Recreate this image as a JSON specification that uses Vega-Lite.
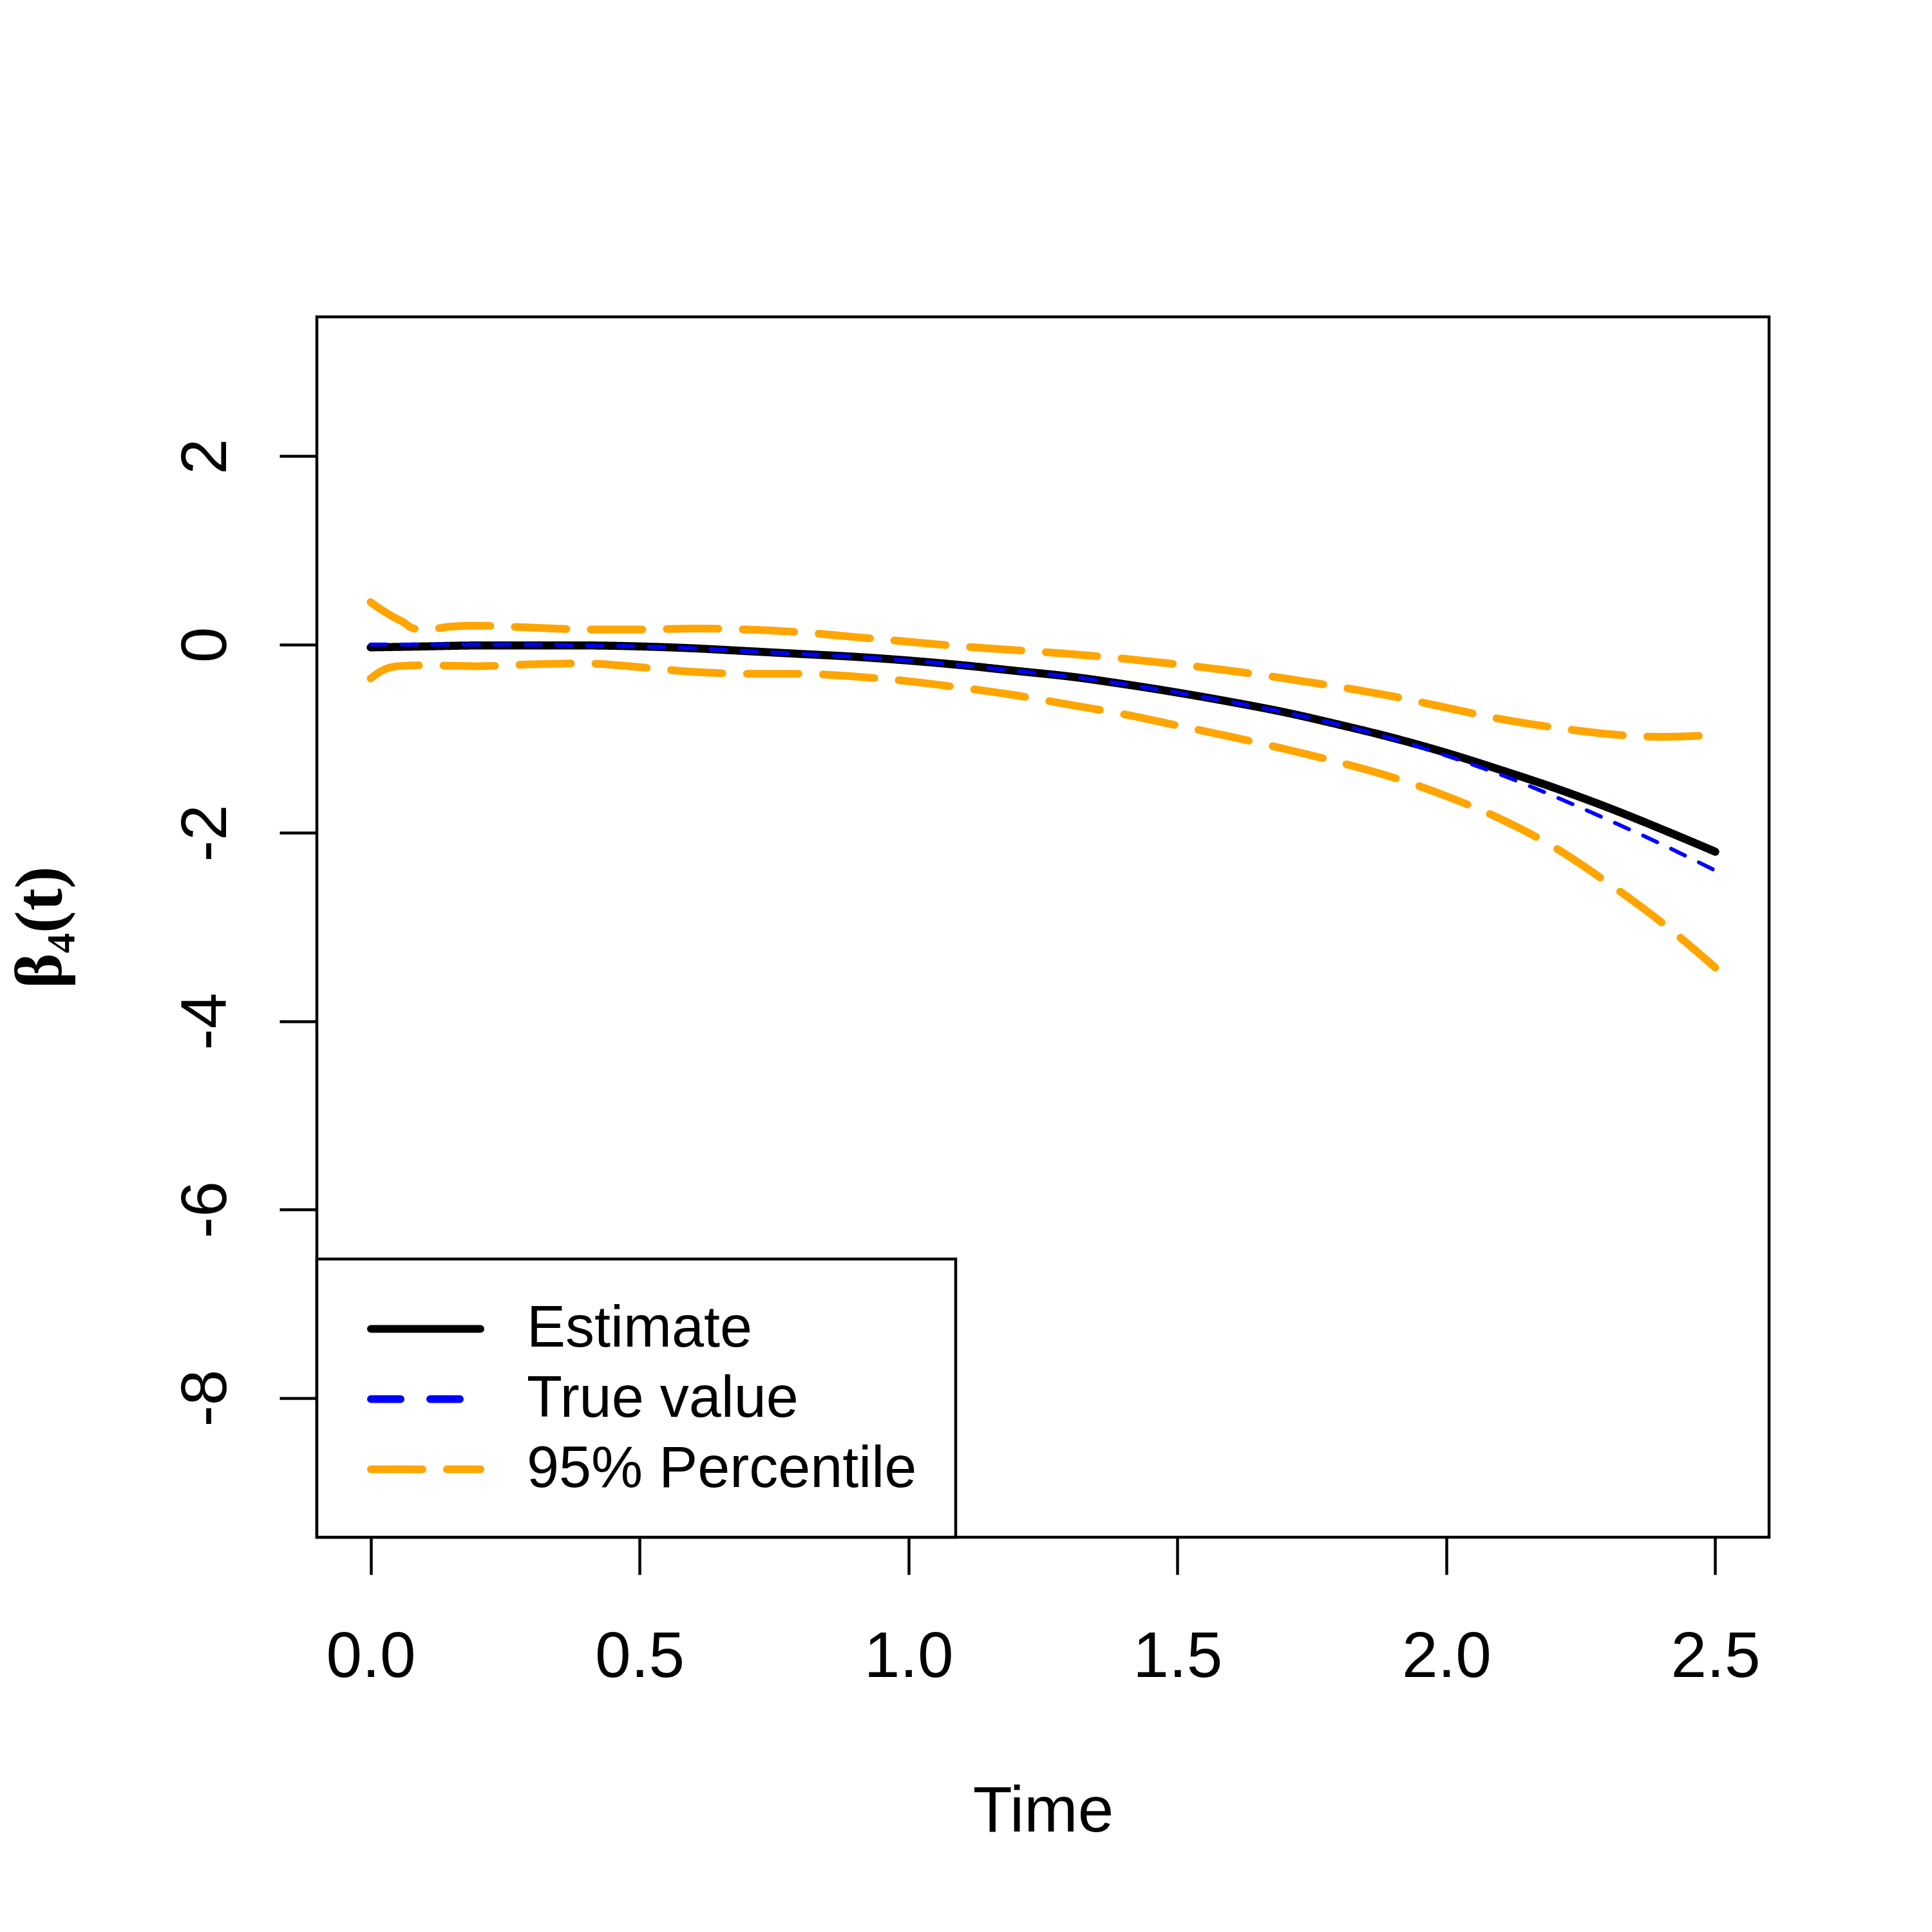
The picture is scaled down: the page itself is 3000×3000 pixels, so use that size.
{
  "$schema": "https://vega.github.io/schema/vega-lite/v6.json",
  "width": 2255,
  "height": 1895,
  "autosize": "none",
  "padding": {"left": 492, "top": 492, "right": 253, "bottom": 613},
  "background": "white",
  "datasets": {
    "curves": [
      {"time": 0.0, "value": -0.03, "series": "Estimate", "curve": "est"},
      {"time": 0.1, "value": -0.02, "series": "Estimate", "curve": "est"},
      {"time": 0.2, "value": -0.01, "series": "Estimate", "curve": "est"},
      {"time": 0.3, "value": -0.01, "series": "Estimate", "curve": "est"},
      {"time": 0.4, "value": -0.01, "series": "Estimate", "curve": "est"},
      {"time": 0.5, "value": -0.02, "series": "Estimate", "curve": "est"},
      {"time": 0.6, "value": -0.04, "series": "Estimate", "curve": "est"},
      {"time": 0.7, "value": -0.07, "series": "Estimate", "curve": "est"},
      {"time": 0.8, "value": -0.10, "series": "Estimate", "curve": "est"},
      {"time": 0.9, "value": -0.13, "series": "Estimate", "curve": "est"},
      {"time": 1.0, "value": -0.17, "series": "Estimate", "curve": "est"},
      {"time": 1.1, "value": -0.22, "series": "Estimate", "curve": "est"},
      {"time": 1.2, "value": -0.28, "series": "Estimate", "curve": "est"},
      {"time": 1.3, "value": -0.34, "series": "Estimate", "curve": "est"},
      {"time": 1.4, "value": -0.42, "series": "Estimate", "curve": "est"},
      {"time": 1.5, "value": -0.51, "series": "Estimate", "curve": "est"},
      {"time": 1.6, "value": -0.61, "series": "Estimate", "curve": "est"},
      {"time": 1.7, "value": -0.72, "series": "Estimate", "curve": "est"},
      {"time": 1.8, "value": -0.85, "series": "Estimate", "curve": "est"},
      {"time": 1.9, "value": -0.99, "series": "Estimate", "curve": "est"},
      {"time": 2.0, "value": -1.15, "series": "Estimate", "curve": "est"},
      {"time": 2.1, "value": -1.33, "series": "Estimate", "curve": "est"},
      {"time": 2.2, "value": -1.52, "series": "Estimate", "curve": "est"},
      {"time": 2.3, "value": -1.73, "series": "Estimate", "curve": "est"},
      {"time": 2.4, "value": -1.96, "series": "Estimate", "curve": "est"},
      {"time": 2.5, "value": -2.20, "series": "Estimate", "curve": "est"},

      {"time": 0.0, "value": 0.0, "series": "True value", "curve": "true"},
      {"time": 0.1, "value": 0.0, "series": "True value", "curve": "true"},
      {"time": 0.2, "value": 0.0, "series": "True value", "curve": "true"},
      {"time": 0.3, "value": 0.0, "series": "True value", "curve": "true"},
      {"time": 0.4, "value": -0.01, "series": "True value", "curve": "true"},
      {"time": 0.5, "value": -0.02, "series": "True value", "curve": "true"},
      {"time": 0.6, "value": -0.04, "series": "True value", "curve": "true"},
      {"time": 0.7, "value": -0.07, "series": "True value", "curve": "true"},
      {"time": 0.8, "value": -0.10, "series": "True value", "curve": "true"},
      {"time": 0.9, "value": -0.13, "series": "True value", "curve": "true"},
      {"time": 1.0, "value": -0.17, "series": "True value", "curve": "true"},
      {"time": 1.1, "value": -0.22, "series": "True value", "curve": "true"},
      {"time": 1.2, "value": -0.28, "series": "True value", "curve": "true"},
      {"time": 1.3, "value": -0.34, "series": "True value", "curve": "true"},
      {"time": 1.4, "value": -0.42, "series": "True value", "curve": "true"},
      {"time": 1.5, "value": -0.51, "series": "True value", "curve": "true"},
      {"time": 1.6, "value": -0.61, "series": "True value", "curve": "true"},
      {"time": 1.7, "value": -0.72, "series": "True value", "curve": "true"},
      {"time": 1.8, "value": -0.85, "series": "True value", "curve": "true"},
      {"time": 1.9, "value": -1.00, "series": "True value", "curve": "true"},
      {"time": 2.0, "value": -1.18, "series": "True value", "curve": "true"},
      {"time": 2.1, "value": -1.38, "series": "True value", "curve": "true"},
      {"time": 2.2, "value": -1.61, "series": "True value", "curve": "true"},
      {"time": 2.3, "value": -1.86, "series": "True value", "curve": "true"},
      {"time": 2.4, "value": -2.12, "series": "True value", "curve": "true"},
      {"time": 2.5, "value": -2.40, "series": "True value", "curve": "true"},

      {"time": 0.0, "value": 0.45, "series": "95% Percentile", "curve": "upper"},
      {"time": 0.02, "value": 0.37, "series": "95% Percentile", "curve": "upper"},
      {"time": 0.04, "value": 0.30, "series": "95% Percentile", "curve": "upper"},
      {"time": 0.06, "value": 0.24, "series": "95% Percentile", "curve": "upper"},
      {"time": 0.08, "value": 0.17, "series": "95% Percentile", "curve": "upper"},
      {"time": 0.1, "value": 0.16, "series": "95% Percentile", "curve": "upper"},
      {"time": 0.15, "value": 0.19, "series": "95% Percentile", "curve": "upper"},
      {"time": 0.2, "value": 0.20, "series": "95% Percentile", "curve": "upper"},
      {"time": 0.3, "value": 0.18, "series": "95% Percentile", "curve": "upper"},
      {"time": 0.4, "value": 0.16, "series": "95% Percentile", "curve": "upper"},
      {"time": 0.5, "value": 0.16, "series": "95% Percentile", "curve": "upper"},
      {"time": 0.6, "value": 0.17, "series": "95% Percentile", "curve": "upper"},
      {"time": 0.7, "value": 0.16, "series": "95% Percentile", "curve": "upper"},
      {"time": 0.8, "value": 0.13, "series": "95% Percentile", "curve": "upper"},
      {"time": 0.9, "value": 0.08, "series": "95% Percentile", "curve": "upper"},
      {"time": 1.0, "value": 0.03, "series": "95% Percentile", "curve": "upper"},
      {"time": 1.1, "value": -0.02, "series": "95% Percentile", "curve": "upper"},
      {"time": 1.2, "value": -0.06, "series": "95% Percentile", "curve": "upper"},
      {"time": 1.3, "value": -0.10, "series": "95% Percentile", "curve": "upper"},
      {"time": 1.4, "value": -0.15, "series": "95% Percentile", "curve": "upper"},
      {"time": 1.5, "value": -0.21, "series": "95% Percentile", "curve": "upper"},
      {"time": 1.6, "value": -0.28, "series": "95% Percentile", "curve": "upper"},
      {"time": 1.7, "value": -0.36, "series": "95% Percentile", "curve": "upper"},
      {"time": 1.8, "value": -0.45, "series": "95% Percentile", "curve": "upper"},
      {"time": 1.9, "value": -0.55, "series": "95% Percentile", "curve": "upper"},
      {"time": 2.0, "value": -0.67, "series": "95% Percentile", "curve": "upper"},
      {"time": 2.1, "value": -0.79, "series": "95% Percentile", "curve": "upper"},
      {"time": 2.2, "value": -0.88, "series": "95% Percentile", "curve": "upper"},
      {"time": 2.3, "value": -0.95, "series": "95% Percentile", "curve": "upper"},
      {"time": 2.4, "value": -0.98, "series": "95% Percentile", "curve": "upper"},
      {"time": 2.5, "value": -0.96, "series": "95% Percentile", "curve": "upper"},

      {"time": 0.0, "value": -0.36, "series": "95% Percentile", "curve": "lower"},
      {"time": 0.02, "value": -0.28, "series": "95% Percentile", "curve": "lower"},
      {"time": 0.05, "value": -0.23, "series": "95% Percentile", "curve": "lower"},
      {"time": 0.1, "value": -0.22, "series": "95% Percentile", "curve": "lower"},
      {"time": 0.2, "value": -0.23, "series": "95% Percentile", "curve": "lower"},
      {"time": 0.3, "value": -0.21, "series": "95% Percentile", "curve": "lower"},
      {"time": 0.4, "value": -0.20, "series": "95% Percentile", "curve": "lower"},
      {"time": 0.5, "value": -0.24, "series": "95% Percentile", "curve": "lower"},
      {"time": 0.6, "value": -0.29, "series": "95% Percentile", "curve": "lower"},
      {"time": 0.7, "value": -0.31, "series": "95% Percentile", "curve": "lower"},
      {"time": 0.8, "value": -0.31, "series": "95% Percentile", "curve": "lower"},
      {"time": 0.9, "value": -0.34, "series": "95% Percentile", "curve": "lower"},
      {"time": 1.0, "value": -0.39, "series": "95% Percentile", "curve": "lower"},
      {"time": 1.1, "value": -0.46, "series": "95% Percentile", "curve": "lower"},
      {"time": 1.2, "value": -0.54, "series": "95% Percentile", "curve": "lower"},
      {"time": 1.3, "value": -0.64, "series": "95% Percentile", "curve": "lower"},
      {"time": 1.4, "value": -0.74, "series": "95% Percentile", "curve": "lower"},
      {"time": 1.5, "value": -0.86, "series": "95% Percentile", "curve": "lower"},
      {"time": 1.6, "value": -0.98, "series": "95% Percentile", "curve": "lower"},
      {"time": 1.7, "value": -1.11, "series": "95% Percentile", "curve": "lower"},
      {"time": 1.8, "value": -1.25, "series": "95% Percentile", "curve": "lower"},
      {"time": 1.9, "value": -1.41, "series": "95% Percentile", "curve": "lower"},
      {"time": 2.0, "value": -1.61, "series": "95% Percentile", "curve": "lower"},
      {"time": 2.1, "value": -1.85, "series": "95% Percentile", "curve": "lower"},
      {"time": 2.2, "value": -2.15, "series": "95% Percentile", "curve": "lower"},
      {"time": 2.3, "value": -2.53, "series": "95% Percentile", "curve": "lower"},
      {"time": 2.4, "value": -2.95, "series": "95% Percentile", "curve": "lower"},
      {"time": 2.5, "value": -3.43, "series": "95% Percentile", "curve": "lower"}
    ]
  },
  "data": {"name": "curves"},
  "encoding": {
    "x": {
      "field": "time",
      "type": "quantitative",
      "scale": {"domain": [-0.1, 2.6], "nice": false, "zero": false},
      "axis": {
        "title": "Time",
        "values": [0, 0.5, 1, 1.5, 2, 2.5],
        "labelExpr": "format(datum.value, '.1f')",
        "labelBaseline": "alphabetic",
        "labelPadding": 158,
        "labelFlush": false,
        "titleBaseline": "alphabetic",
        "titlePadding": 256
      }
    },
    "y": {
      "field": "value",
      "type": "quantitative",
      "scale": {"domain": [-9.48, 3.48], "nice": false, "zero": false},
      "axis": {
        "title": "β₄(t)",
        "values": [-8, -6, -4, -2, 0, 2],
        "labelExpr": "datum.value + ''",
        "labelAngle": 270,
        "labelAlign": "center",
        "labelBaseline": "alphabetic",
        "labelPadding": 84,
        "titleFont": "Liberation Serif",
        "titleFontWeight": "bold",
        "titleFontSize": 104,
        "titleAngle": 270,
        "titleBaseline": "alphabetic",
        "titlePadding": 198
      }
    },
    "color": {
      "field": "series",
      "type": "nominal",
      "scale": {
        "domain": ["Estimate", "True value", "95% Percentile"],
        "range": ["#000000", "#0000FF", "#FFA500"]
      },
      "legend": {
        "title": null,
        "orient": "none",
        "legendX": 0,
        "legendY": 1463,
        "symbolType": "M-1,0H3",
        "encode": {
          "legend": {"update": {"strokeWidth": {"value": 4.5}}},
          "symbols": {"update": {"strokeCap": {"value": "round"}, "fill": {"value": "transparent"}}}
        }
      }
    },
    "detail": {"field": "curve"}
  },
  "layer": [
    {
      "transform": [{"filter": "datum.series == 'Estimate'"}],
      "mark": {"type": "line", "strokeWidth": 12.5, "strokeCap": "round", "strokeJoin": "round", "interpolate": "monotone"},
      "encoding": {
        "strokeDash": {
          "field": "series",
          "type": "nominal",
          "scale": {
            "domain": ["Estimate", "True value", "95% Percentile"],
            "range": [[1, 0], [46, 46], [80, 38]]
          },
          "legend": {
            "title": null,
            "orient": "none",
            "legendX": 0,
            "legendY": 1463,
            "symbolType": "M-1,0H3"
          }
        }
      }
    },
    {
      "transform": [{"filter": "datum.series == 'True value'"}],
      "mark": {"type": "line", "strokeWidth": 6, "strokeDash": [24, 24], "strokeCap": "round", "strokeJoin": "round", "interpolate": "monotone"}
    },
    {
      "transform": [{"filter": "datum.series == '95% Percentile'"}],
      "mark": {"type": "line", "strokeWidth": 12, "strokeCap": "round", "strokeJoin": "round", "interpolate": "monotone"},
      "encoding": {
        "strokeDash": {
          "field": "series",
          "type": "nominal",
          "scale": {
            "domain": ["Estimate", "True value", "95% Percentile"],
            "range": [[1, 0], [46, 46], [80, 38]]
          },
          "legend": {
            "title": null,
            "orient": "none",
            "legendX": 0,
            "legendY": 1463,
            "symbolType": "M-1,0H3"
          }
        }
      }
    }
  ],
  "config": {
    "view": {"stroke": "#000000", "strokeWidth": 4.5},
    "axis": {
      "domain": false,
      "grid": false,
      "ticks": true,
      "tickColor": "#000000",
      "tickWidth": 4.5,
      "tickSize": 58,
      "labelFont": "Liberation Sans",
      "labelFontSize": 100,
      "labelColor": "#000000",
      "labelOverlap": false,
      "labelBound": false,
      "titleFont": "Liberation Sans",
      "titleFontSize": 100,
      "titleFontWeight": "normal",
      "titleColor": "#000000"
    },
    "legend": {
      "padding": 60,
      "strokeColor": "#000000",
      "fillColor": "#FFFFFF",
      "symbolType": "M-1,0H3",
      "symbolSize": 7225,
      "symbolStrokeWidth": 12,
      "symbolOffset": 18,
      "labelFont": "Liberation Sans",
      "labelFontSize": 90,
      "labelColor": "#000000",
      "labelOffset": 151,
      "labelLimit": 0,
      "labelBaseline": "middle",
      "rowPadding": 15
    }
  }
}
